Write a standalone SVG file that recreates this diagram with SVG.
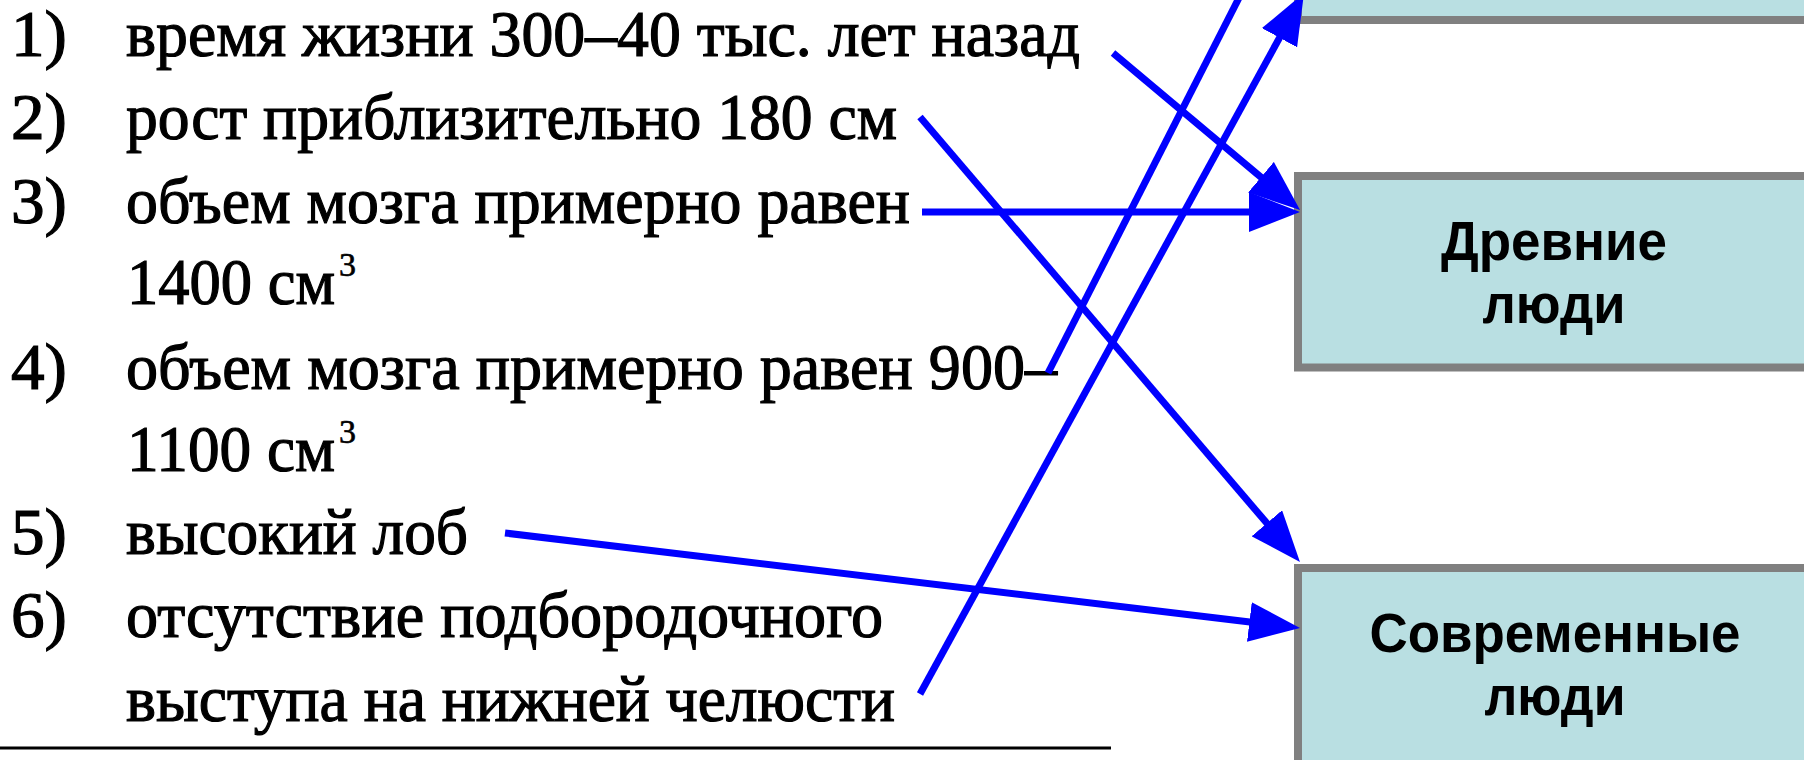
<svg xmlns="http://www.w3.org/2000/svg" width="1804" height="760" viewBox="0 0 1804 760">
<style>
.t{font-family:"Liberation Serif","Times New Roman",serif;font-size:66px;fill:#000;stroke:#000;stroke-width:1.2}
.s{font-size:34px;stroke-width:0.6}
.box{fill:#B9DFE2;stroke:#808080;stroke-width:8}
.bt{font-family:"Liberation Sans",Arial,sans-serif;font-weight:bold;font-size:55px;fill:#000;text-anchor:middle}
.c{stroke:#0000FF;stroke-width:7;fill:none}
</style>
<defs>
<marker id="ah" viewBox="0 0 51 40" refX="11" refY="20" markerWidth="51" markerHeight="40" markerUnits="userSpaceOnUse" orient="auto">
<path d="M0,0 L51,20 L0,40 z" fill="#0000FF"/>
</marker>
</defs>
<rect width="1804" height="760" fill="#fff"/>
<g id="list">
<text class="t" x="11" y="56" textLength="56" lengthAdjust="spacingAndGlyphs">1)</text>
<text class="t" x="126" y="56" textLength="954" lengthAdjust="spacingAndGlyphs">время жизни 300–40 тыс. лет назад</text>
<text class="t" x="11" y="139" textLength="56" lengthAdjust="spacingAndGlyphs">2)</text>
<text class="t" x="126" y="139" textLength="771" lengthAdjust="spacingAndGlyphs">рост приблизительно 180 см</text>
<text class="t" x="11" y="223" textLength="56" lengthAdjust="spacingAndGlyphs">3)</text>
<text class="t" x="126" y="223" textLength="784" lengthAdjust="spacingAndGlyphs">объем мозга примерно равен</text>
<text class="t" x="127" y="304"><tspan textLength="208" lengthAdjust="spacingAndGlyphs">1400 см</tspan><tspan class="s" dx="4" dy="-28">3</tspan></text>
<text class="t" x="11" y="389" textLength="56" lengthAdjust="spacingAndGlyphs">4)</text>
<text class="t" x="126" y="389" textLength="931" lengthAdjust="spacingAndGlyphs">объем мозга примерно равен 900–</text>
<text class="t" x="127" y="471"><tspan textLength="208" lengthAdjust="spacingAndGlyphs">1100 см</tspan><tspan class="s" dx="4" dy="-28">3</tspan></text>
<text class="t" x="11" y="554" textLength="56" lengthAdjust="spacingAndGlyphs">5)</text>
<text class="t" x="126" y="554" textLength="342" lengthAdjust="spacingAndGlyphs">высокий лоб</text>
<text class="t" x="11" y="637" textLength="56" lengthAdjust="spacingAndGlyphs">6)</text>
<text class="t" x="126" y="637" textLength="757" lengthAdjust="spacingAndGlyphs">отсутствие подбородочного</text>
<text class="t" x="126" y="721" textLength="769" lengthAdjust="spacingAndGlyphs">выступа на нижней челюсти</text>
<line x1="0" y1="748" x2="1111" y2="748" stroke="#000" stroke-width="3"/>
</g>
<g id="node-top">
<rect class="box" x="1298" y="-200" width="600" height="220"/>
</g>
<g id="node-ancient">
<rect class="box" x="1298" y="176" width="600" height="191.5"/>
<text class="bt" x="1554" y="260" textLength="226" lengthAdjust="spacingAndGlyphs">Древние</text>
<text class="bt" x="1554" y="323" textLength="143" lengthAdjust="spacingAndGlyphs">люди</text>
</g>
<g id="node-modern">
<rect class="box" x="1298" y="568" width="600" height="300"/>
<text class="bt" x="1555" y="652" textLength="371" lengthAdjust="spacingAndGlyphs">Современные</text>
<text class="bt" x="1555" y="715" textLength="141" lengthAdjust="spacingAndGlyphs">люди</text>
</g>
<g id="connectors" class="c">
<line x1="1113" y1="53" x2="1269.4" y2="184.3" marker-end="url(#ah)"/>
<line x1="920" y1="117" x2="1274" y2="531.6" marker-end="url(#ah)"/>
<line x1="922" y1="212" x2="1260" y2="212" marker-end="url(#ah)"/>
<line x1="1048" y1="373" x2="1299" y2="-120" marker-end="url(#ah)"/>
<line x1="505" y1="533" x2="1260.3" y2="623.3" marker-end="url(#ah)"/>
<line x1="920" y1="694" x2="1284.8" y2="28.1" marker-end="url(#ah)"/>
</g>
</svg>
